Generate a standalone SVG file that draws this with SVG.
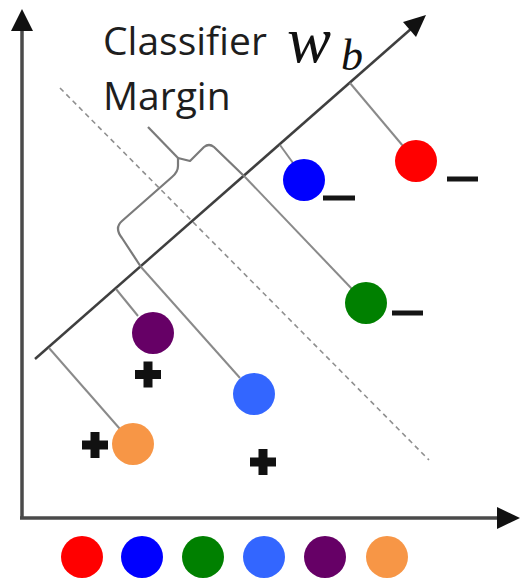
<svg xmlns="http://www.w3.org/2000/svg" width="520" height="579" viewBox="0 0 520 579">
<style>
.axis{stroke:#4a4a4a;stroke-width:3.5;fill:none}
.main{stroke:#3f3f3f;stroke-width:2.5;fill:none}
.perp{stroke:#8a8a8a;stroke-width:2;fill:none}
.dash{stroke:#8f8f8f;stroke-width:1.6;fill:none;stroke-dasharray:5 4}
.brace{stroke:#7a7a7a;stroke-width:2.2;fill:none;stroke-linejoin:round}
.lbl{font-family:"Open Sans","Liberation Sans",sans-serif;font-size:39px;fill:#1e1e1e}
.math{font-family:"Liberation Serif",serif;font-style:italic;fill:#111}
.sign{stroke:#111;stroke-width:9;fill:none}
.minus{fill:#151515}
</style>
<rect width="520" height="579" fill="#ffffff"/>
<g id="connectors">
  <line class="axis" x1="22" y1="28" x2="22" y2="519"/>
  <polygon points="22,9 11,31 33,31" fill="#111"/>
  <line class="axis" x1="20" y1="518" x2="500" y2="518"/>
  <polygon points="520,518 497,507 497,529" fill="#111"/>
  <line class="dash" x1="60" y1="88" x2="429" y2="460"/>
  <line class="main" x1="35" y1="359" x2="412" y2="28"/>
  <polygon points="426,15 416,37 403,22" fill="#111"/>
  <line class="perp" x1="350" y1="83" x2="403" y2="146"/>
  <line class="perp" x1="280" y1="145" x2="293" y2="163"/>
  <line class="perp" x1="245" y1="177" x2="352" y2="289"/>
  <line class="perp" x1="141" y1="267" x2="240" y2="378"/>
  <line class="perp" x1="116" y1="289" x2="138" y2="316"/>
  <line class="perp" x1="49" y1="348" x2="120" y2="429"/>
  <path class="brace" d="M141,267 L122,238 Q114,228 122,221 L172,177 Q178,172 178,166 L178,158 L190,161 L204,147 Q209,143 214,147 L245,177"/>
  <line class="brace" x1="148" y1="127" x2="178" y2="158"/>
</g>
<g id="label-classifier-margin">
  <text class="lbl" x="103" y="55">Classifier</text>
  <text class="lbl" x="103" y="110">Margin</text>
</g>
<g id="label-wb">
  <text class="math" x="287" y="62" font-size="66">w</text>
  <text class="math" x="341" y="70" font-size="44">b</text>
</g>
<g id="point-red"><circle cx="416" cy="161" r="21" fill="#FF0000"/><rect class="minus" x="447" y="176.5" width="31" height="5"/></g>
<g id="point-blue"><circle cx="304" cy="180" r="21" fill="#0000FF"/><rect class="minus" x="323" y="195.5" width="32" height="5"/></g>
<g id="point-green"><circle cx="366" cy="303" r="21" fill="#008000"/><rect class="minus" x="392" y="310.5" width="31" height="5"/></g>
<g id="point-purple"><circle cx="153" cy="333" r="21" fill="#660066"/><path class="sign" d="M135,374.5 H161 M148,361.5 V387.5"/></g>
<g id="point-lightblue"><circle cx="254" cy="394" r="21" fill="#3366FF"/><path class="sign" d="M250,462 H276 M263,449 V475"/></g>
<g id="point-orange"><circle cx="133" cy="444" r="21" fill="#F79646"/><path class="sign" d="M82,445 H108 M95,432 V458"/></g>
<g id="legend">
  <circle cx="82" cy="557" r="21" fill="#FF0000"/>
  <circle cx="142" cy="557" r="21" fill="#0000FF"/>
  <circle cx="203" cy="557" r="21" fill="#008000"/>
  <circle cx="264" cy="557" r="21" fill="#3366FF"/>
  <circle cx="325" cy="557" r="21" fill="#660066"/>
  <circle cx="387" cy="557" r="21" fill="#F79646"/>
</g>
</svg>
